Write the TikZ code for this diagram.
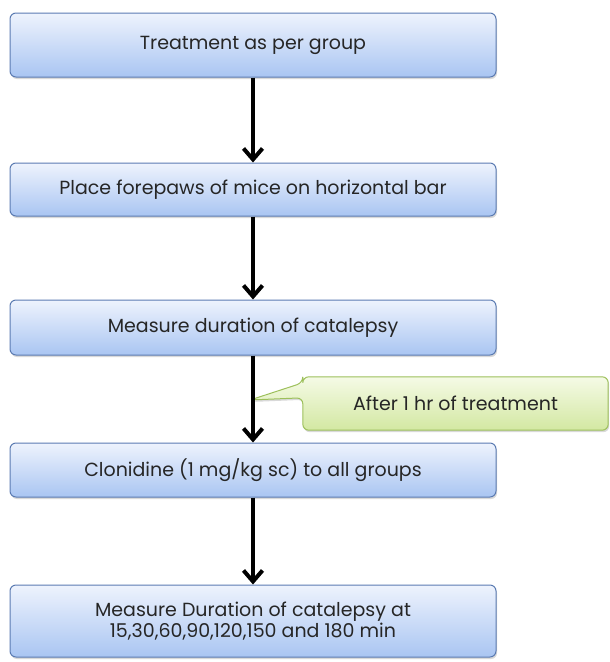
\documentclass[tikz,border=0pt]{standalone}
\usepackage{fontspec}
\setmainfont{Poppins}
\usetikzlibrary{arrows.meta,shadows,backgrounds}

\definecolor{boxtop}{HTML}{EEF3FD}
\definecolor{boxbot}{HTML}{A9C5F2}
\definecolor{boxedge}{HTML}{5B7BB2}
\definecolor{notetop}{HTML}{F5FAE6}
\definecolor{notebot}{HTML}{D3E8A2}
\definecolor{noteedge}{HTML}{9DC05B}
\definecolor{ink}{HTML}{262626}

\tikzset{
    stepbox/.style={draw=boxedge, line width=1pt, rounded corners=6pt,
        top color=boxtop, bottom color=boxbot, minimum width=486pt,
        align=center, text=ink, font=\fontsize{19}{21}\selectfont,
        drop shadow={shadow xshift=1pt, shadow yshift=-2pt, opacity=0.3}},
    noteshape/.style={draw=noteedge, line width=1pt, rounded corners=6pt,
        top color=notetop, bottom color=notebot,
        drop shadow={shadow xshift=1pt, shadow yshift=-2pt, opacity=0.3}},
    notetext/.style={minimum width=305pt, minimum height=53pt, text=ink,
        font=\fontsize{19}{21}\selectfont},
    flow/.style={line width=3.5pt, -{Straight Barb[length=11pt, width=19pt, line width=4pt]}}
}

\begin{document}
\begin{tikzpicture}[x=1pt, y=-1pt]
    \useasboundingbox (0, 0) rectangle (610, 662);

    \node [stepbox, minimum height=64pt] (treat) at (253, 45) {Treatment as per group};
    \node [stepbox, minimum height=53pt] (place) at (253, 189.5) {Place forepaws of mice on horizontal bar};
    \node [stepbox, minimum height=55pt] (measure) at (253, 327.5) {Measure duration of catalepsy};
    \node [stepbox, minimum height=54pt] (clon) at (253, 470) {Clonidine (1 mg/kg sc) to all groups};
    \node [stepbox, minimum height=72pt] (final) at (253, 621) {Measure Duration of catalepsy at\\15,30,60,90,120,150 and 180 min};

    \draw [flow] (treat) -- (place);
    \draw [flow] (place) -- (measure);
    \draw [flow] (measure) -- (clon);
    \draw [flow] (clon) -- (final);

    % callout
    \coordinate (tip) at (250, 400);
    \node [notetext] (note) at (455.5, 403.5) {After 1 hr of treatment};
    \begin{scope}[on background layer]
        \draw [noteshape] (tip) -- ([yshift=-6pt]note.north west) -- (note.north west)
            -- (note.north east) -- (note.south east) -- (note.south west)
            -- ([yshift=-21pt]note.north west) -- cycle;
    \end{scope}
\end{tikzpicture}
\end{document}
